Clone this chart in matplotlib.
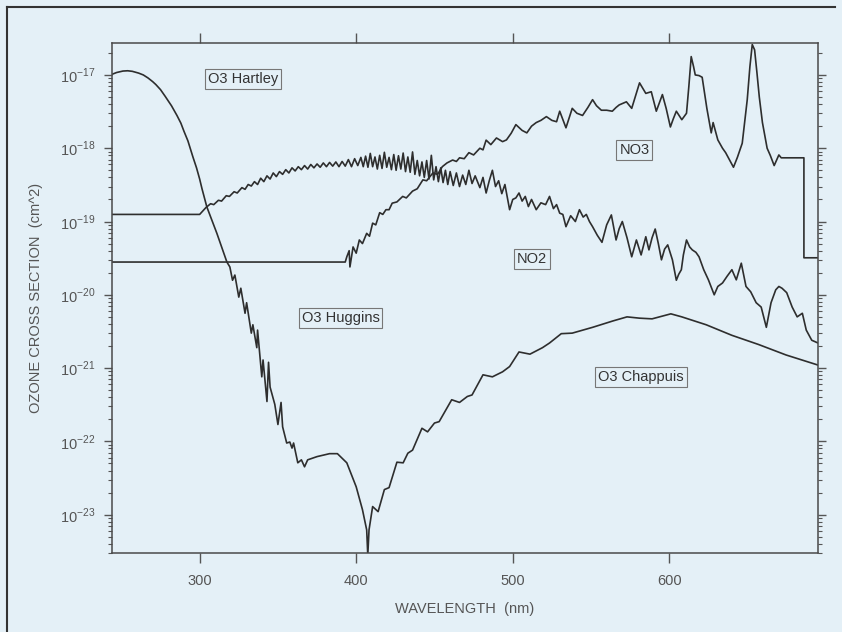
import numpy as np
import matplotlib.pyplot as plt
from matplotlib.lines import Line2D
from matplotlib.ticker import LogLocator, FixedLocator, NullFormatter

plt.rcParams['font.family'] = ['Liberation Sans', 'DejaVu Sans']

# ozone: Hartley / Huggins / Chappuis bands
o3_nm = [244, 247, 251, 254, 257, 261, 264, 267, 270, 272, 275, 278, 280, 282, 285.5, 288, 290,
         292.5, 295.7, 298, 300, 301.5, 304.6, 311, 317.4,
         319.3, 321, 322.5, 325, 326.3, 329, 330, 333, 334, 336.5, 337, 339.7, 340.5, 343, 344,
         345, 348, 350, 352, 353, 355.6, 357.6, 359, 360, 362.7, 365, 367, 369, 375, 383, 388,
         394, 400, 404, 406.7, 407.4, 408.2, 410.5, 414, 418, 421, 426, 430, 433, 436, 442,
         445.6, 450, 453, 461, 466, 471, 474, 481, 487, 493.5, 498, 504, 511, 519, 523.5, 531,
         538, 551, 564, 573, 581, 589, 601, 608, 623.6, 640, 657, 674.6, 695]
o3_xs = [1.02e-17, 1.08e-17, 1.13e-17, 1.14e-17, 1.12e-17, 1.06e-17, 1.0e-17, 9.1e-18, 8.1e-18,
         7.4e-18, 6.3e-18, 5.1e-18, 4.4e-18, 3.8e-18, 2.8e-18, 2.2e-18, 1.7e-18,
         1.26e-18, 7.6e-19, 5.4e-19, 3.8e-19, 2.8e-19, 1.58e-19, 6.9e-20, 2.8e-20,
         2.4e-20, 1.58e-20, 1.86e-20, 9.3e-21, 1.23e-20, 5.6e-21, 7.8e-21, 3.0e-21, 3.9e-21,
         1.9e-21, 3.3e-21, 7.6e-22, 1.29e-21, 3.5e-22, 1.2e-21,
         5.5e-22, 3.2e-22, 1.7e-22, 3.4e-22, 1.58e-22, 9.5e-23, 9.8e-23, 8.1e-23, 9.5e-23,
         5.1e-23, 5.6e-23, 4.5e-23, 5.6e-23, 6.2e-23, 6.8e-23, 6.8e-23,
         5.1e-23, 2.4e-23, 1.17e-23, 6.2e-24, 2.8e-24, 6.2e-24, 1.29e-23, 1.10e-23, 2.2e-23,
         2.34e-23, 5.2e-23, 5.1e-23, 6.9e-23, 7.6e-23, 1.51e-22,
         1.35e-22, 1.78e-22, 1.86e-22, 3.7e-22, 3.4e-22, 4.1e-22, 4.3e-22, 8.1e-22, 7.6e-22,
         8.9e-22, 1.05e-21, 1.66e-21, 1.55e-21, 1.9e-21, 2.2e-21, 2.95e-21,
         3.0e-21, 3.6e-21, 4.4e-21, 5.0e-21, 4.8e-21, 4.7e-21, 5.5e-21, 5.0e-21, 3.9e-21,
         2.8e-21, 2.1e-21, 1.51e-21, 1.1e-21]

no2_nm = [244, 300, 304, 307, 309, 312, 314, 317, 319, 322, 324, 327, 329, 331, 333, 335, 337,
          339, 341, 343, 345, 347, 349, 351, 353, 355, 357, 359, 361, 363, 365, 367, 369, 371,
          373, 375, 377, 379, 381, 383, 385, 387, 389, 391, 393, 395, 397, 399, 401, 403, 404.5,
          406, 407.5, 409, 410.5, 412, 413.5, 415, 416.5, 418, 419.5, 421, 422.5, 424, 425.5,
          427, 428.5, 430, 431.5, 433, 434.5, 436, 437.5, 439, 440.5, 442, 443.5, 445, 446.5,
          448, 449.5, 451, 452.5, 454, 455.5, 457, 458.5, 460, 462, 464, 466, 468, 470, 472,
          474, 476, 479, 481, 483, 485, 487, 489, 491, 493, 495, 498, 500, 502, 504, 506, 508,
          510, 512, 515, 518, 521, 523.5, 526, 528, 530, 532, 534, 537, 540, 542.6, 545, 547,
          549, 551, 554, 557, 560, 563, 566, 568, 570, 573, 576, 579, 582, 585, 587, 589, 591,
          593, 595, 597, 599, 602, 604.5, 606, 607.7, 609, 611, 613, 614.7, 617, 619, 622, 625,
          628.7, 631, 634, 637, 640, 642.8, 646, 649, 652, 655.5, 658.7, 662, 665, 668, 670,
          672, 675, 678.5, 681.7, 685, 687.5, 691, 695]
no2_xs = [1.25e-19, 1.25e-19, 1.55e-19, 1.75e-19, 1.70e-19, 1.95e-19, 1.90e-19, 2.25e-19,
          2.20e-19, 2.55e-19, 2.45e-19, 2.90e-19, 2.75e-19, 3.20e-19, 3.05e-19, 3.50e-19,
          3.20e-19, 3.90e-19, 3.50e-19, 4.20e-19, 3.80e-19, 4.60e-19, 4.10e-19, 4.80e-19,
          4.40e-19, 5.10e-19, 4.60e-19, 5.40e-19, 4.90e-19, 5.60e-19, 5.10e-19, 5.80e-19,
          5.20e-19, 6.00e-19, 5.40e-19, 6.10e-19, 5.50e-19, 6.30e-19, 5.60e-19, 6.40e-19,
          5.70e-19, 6.50e-19, 5.60e-19, 6.60e-19, 5.70e-19, 7.00e-19, 5.60e-19, 7.20e-19,
          5.80e-19, 7.50e-19, 5.60e-19, 7.80e-19, 5.50e-19, 8.50e-19, 5.60e-19, 7.60e-19,
          5.20e-19, 8.00e-19, 5.30e-19, 8.80e-19, 5.50e-19, 7.50e-19, 5.10e-19, 8.20e-19,
          5.00e-19, 7.90e-19, 5.20e-19, 8.60e-19, 4.80e-19, 7.60e-19, 4.70e-19, 8.90e-19,
          4.40e-19, 6.80e-19, 4.20e-19, 6.50e-19, 4.00e-19, 6.80e-19, 3.80e-19, 8.00e-19,
          3.70e-19, 5.60e-19, 3.50e-19, 5.40e-19, 3.40e-19, 5.00e-19, 3.20e-19, 4.80e-19,
          3.10e-19, 4.60e-19, 3.00e-19, 4.30e-19, 3.20e-19, 5.00e-19, 3.30e-19, 4.20e-19,
          2.90e-19, 4.00e-19, 2.45e-19, 3.60e-19, 5.00e-19, 3.00e-19, 3.60e-19, 2.40e-19,
          3.20e-19, 1.45e-19, 2.00e-19, 2.10e-19, 2.45e-19, 1.90e-19, 2.20e-19, 1.60e-19,
          2.00e-19, 1.45e-19, 1.80e-19, 1.70e-19, 2.20e-19, 1.50e-19, 1.70e-19, 1.30e-19,
          1.25e-19, 8.5e-20, 1.20e-19, 1.00e-19, 1.45e-19, 1.15e-19, 1.25e-19, 1.00e-19,
          8.5e-20, 6.5e-20, 5.2e-20, 9.0e-20, 1.23e-19, 5.6e-20, 8.0e-20, 1.00e-19, 6.0e-20,
          3.3e-20, 5.6e-20, 3.5e-20, 6.2e-20, 4.1e-20, 6.0e-20, 7.9e-20, 5.0e-20, 3.0e-20,
          4.2e-20, 4.8e-20, 3.0e-20, 1.58e-20, 1.9e-20, 2.2e-20, 3.5e-20, 5.6e-20, 4.5e-20,
          4.1e-20, 3.8e-20, 3.3e-20, 2.2e-20, 1.6e-20, 1.0e-20, 1.3e-20, 1.45e-20, 1.8e-20,
          2.2e-20, 1.6e-20, 2.7e-20, 1.3e-20, 1.1e-20, 7.8e-21, 6.8e-21, 3.6e-21, 7.8e-21,
          1.17e-20, 1.3e-20, 1.23e-20, 1.07e-20, 6.8e-21, 5.0e-21, 5.6e-21, 3.3e-21, 2.4e-21,
          2.2e-21]

no3_nm = [244, 393, 394, 395.5, 396, 398, 400, 402, 404, 406.7, 408.5, 410.5, 412.5, 415, 417,
          419, 421, 423, 426, 429.7, 432, 436, 439, 442.6, 445, 449, 452, 455, 458, 461.6, 464,
          466, 469, 472, 475, 479, 481, 483, 486, 489.6, 493.5, 496, 499, 502, 506, 509, 512,
          515, 518, 521.5, 525, 528, 530, 534, 538, 541, 544.6, 548, 551, 553.5, 556.6, 560,
          563.6, 566, 568, 572.6, 576, 581, 585, 588.5, 591.7, 595.6, 598, 600.7, 602.5, 604.5,
          608, 611, 612.5, 614, 615.5, 616.6, 619, 621, 624, 626.8, 628, 631, 634, 636, 641,
          643.5, 646.6, 649.8, 651.5, 653, 654.5, 656, 657.5, 659.5, 662.5, 664.5, 667, 670,
          671.5, 686, 686, 695]
no3_xs = [2.8e-20, 2.8e-20, 3.3e-20, 4.0e-20, 2.4e-20, 4.5e-20, 3.7e-20, 5.6e-20, 5.0e-20,
          6.9e-20, 6.3e-20, 9.5e-20, 9.0e-20, 1.32e-19, 1.25e-19,
          1.45e-19, 1.45e-19, 1.78e-19, 1.85e-19, 2.2e-19, 2.1e-19, 2.6e-19, 2.8e-19, 3.7e-19,
          3.6e-19, 4.6e-19, 4.4e-19, 5.6e-19, 6.3e-19, 6.9e-19, 6.6e-19,
          7.4e-19, 7.2e-19, 8.7e-19, 8.1e-19, 1.0e-18, 9.5e-19, 1.29e-18, 1.12e-18, 1.38e-18,
          1.23e-18, 1.3e-18, 1.6e-18, 2.1e-18, 1.75e-18, 1.62e-18, 2.0e-18,
          2.24e-18, 2.4e-18, 2.7e-18, 2.4e-18, 2.3e-18, 3.2e-18, 1.9e-18, 3.5e-18, 3.0e-18,
          2.8e-18, 3.6e-18, 4.6e-18, 3.8e-18, 3.3e-18, 3.3e-18,
          3.2e-18, 3.6e-18, 3.9e-18, 4.3e-18, 3.5e-18, 7.8e-18, 5.6e-18, 5.9e-18, 3.2e-18,
          5.4e-18, 3.5e-18, 1.95e-18, 2.5e-18, 3.2e-18,
          2.45e-18, 3.0e-18, 7.0e-18, 1.78e-17, 1.3e-17, 1.0e-17, 9.8e-18, 9.3e-18, 3.5e-18,
          1.62e-18, 2.24e-18, 1.3e-18, 1.0e-18, 8.7e-19, 5.5e-19,
          7.5e-19, 1.17e-18, 4.6e-18, 1.3e-17, 2.6e-17, 2.2e-17, 1.07e-17, 5.0e-18, 2.24e-18,
          1.0e-18, 8.0e-19, 5.8e-19, 8.1e-19,
          7.4e-19, 7.4e-19, 3.2e-20, 3.2e-20]

labels = ['O3 Hartley', 'O3 Huggins', 'O3 Chappuis', 'NO3', 'NO2']
label_nm = [327.6, 390, 582, 577.7, 512]
label_xs = [8.8e-18, 4.8e-21, 7.6e-22, 9.5e-19, 3.1e-20]

x_ticks = [300, 400, 500, 600]
y_ticks = [1e-23, 1e-22, 1e-21, 1e-20, 1e-19, 1e-18, 1e-17]
y_ticklabels = ['10$^{\\mathregular{-23}}$', '10$^{\\mathregular{-22}}$',
                '10$^{\\mathregular{-21}}$', '10$^{\\mathregular{-20}}$',
                '10$^{\\mathregular{-19}}$', '10$^{\\mathregular{-18}}$',
                '10$^{\\mathregular{-17}}$']

bg = '#e4f0f7'
ink = '#2e2e2e'
grey = '#555555'

fig = plt.figure(figsize=(8.42, 6.32), dpi=100, facecolor=bg)
ax = fig.add_axes([0.133, 0.125, 0.8385, 0.807], facecolor=bg)

ax.plot(o3_nm, o3_xs, color=ink, lw=1.2)
ax.plot(no2_nm, no2_xs, color=ink, lw=1.2)
ax.plot(no3_nm, no3_xs, color=ink, lw=1.2)

ax.set_yscale('log')
ax.set_xlim(244, 695)
ax.set_ylim(3.0e-24, 2.73e-17)

ax.xaxis.set_major_locator(FixedLocator(x_ticks))
ax.yaxis.set_minor_locator(LogLocator(base=10, subs=np.arange(2, 10), numticks=20))
ax.yaxis.set_minor_formatter(NullFormatter())
ax.set_yticks(y_ticks)
ax.set_yticklabels(y_ticklabels)

ax.tick_params(axis='x', which='major', direction='out', length=7, width=1,
               top=True, bottom=True, color=grey, labelsize=10.5, labelcolor=grey, pad=8)
ax.tick_params(axis='y', which='major', direction='out', length=6, width=1,
               left=True, right=True, color=grey, labelsize=10.5, labelcolor=grey, pad=6)
ax.tick_params(axis='y', which='minor', direction='out', length=3, width=0.8,
               left=True, right=True, color=grey)
for s in ax.spines.values():
    s.set_color('#4a4a4a')
    s.set_linewidth(1.1)

ax.set_xlabel('WAVELENGTH  (nm)', fontsize=10.5, color=grey, labelpad=10)
ax.set_ylabel('OZONE CROSS SECTION  (cm^2)', fontsize=10.5, color=grey, labelpad=12)

for t, x, y in zip(labels, label_nm, label_xs):
    ax.text(x, y, t, ha='center', va='center', fontsize=10.5, color='#333333',
            bbox=dict(boxstyle='square,pad=0.2', fc='none', ec='#777777', lw=0.8))

# scan frame
fig.add_artist(Line2D([7 / 842, 835 / 842], [1 - 7 / 632, 1 - 7 / 632],
                      transform=fig.transFigure, color='#333333', lw=1.5))
fig.add_artist(Line2D([7 / 842, 7 / 842], [0, 1 - 7 / 632],
                      transform=fig.transFigure, color='#333333', lw=1.5))

fig.savefig('out.png', dpi=100, facecolor=bg)
